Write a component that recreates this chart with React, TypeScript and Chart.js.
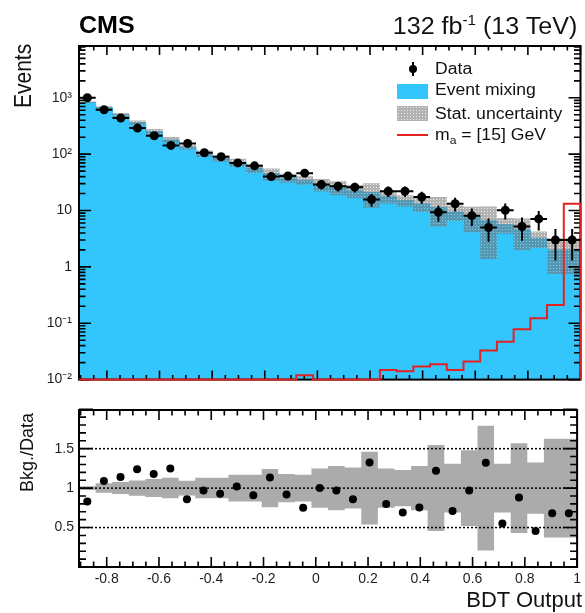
import React, { useEffect, useRef } from "react";
import { Chart, registerables } from "chart.js";

Chart.register(...registerables);

// ---------------- data ----------------
const binEdges = [
  -0.906, -0.8425, -0.7789, -0.7154, -0.6519, -0.5883, -0.5248, -0.4613, -0.3977, -0.3342,
  -0.2707, -0.2071, -0.1436, -0.0801, -0.0165, 0.047, 0.1105, 0.1741, 0.2376, 0.3011,
  0.3647, 0.4282, 0.4917, 0.5553, 0.6188, 0.6823, 0.7459, 0.8094, 0.8729, 0.9365, 1.0,
];
const dataCounts = [
  1000, 613, 436, 290, 212, 143, 155, 106, 90, 70, 62, 40, 41, 46, 29, 27, 26, 15.7, 22, 22,
  17.4, 9.3, 13.2, 8.1, 5.0, 10.1, 5.2, 7.1, 3.0, 3.0,
];
const dataErrors = [
  31.6, 24.8, 20.9, 17.0, 14.6, 12.0, 12.4, 10.3, 9.5, 8.4, 7.9, 6.3, 6.4, 6.8, 5.4, 5.2, 5.1, 4.0,
  4.7, 4.7, 4.2, 3.0, 3.6, 2.8, 2.2, 3.2, 2.3, 2.7, 1.7, 1.7,
];
const bkgEventMixing = [
  830, 668, 497, 360, 250, 179, 133, 103, 84, 71, 56, 45, 38, 34.5, 29, 26, 22.4, 20.8, 17.6, 15.2,
  13.1, 11.3, 9.4, 7.9, 6.6, 5.6, 4.6, 3.2, 2.0, 2.0,
];
const bkgRelUnc = [
  0.025, 0.06, 0.076, 0.097, 0.114, 0.13, 0.093, 0.13, 0.13, 0.17, 0.17, 0.243, 0.18, 0.17, 0.25,
  0.28, 0.26, 0.46, 0.25, 0.23, 0.28, 0.545, 0.31, 0.48, 0.79, 0.31, 0.57, 0.325, 0.625, 0.625,
];
const signalMa15 = [
  0, 0, 0, 0, 0, 0, 0, 0, 0, 0, 0, 0, 0, 0.012, 0, 0, 0, 0, 0.0148, 0.014, 0.017, 0.0187, 0.0148,
  0.021, 0.033, 0.047, 0.078, 0.123, 0.21, 13.2,
];
const ratioBkgData = [
  0.83, 1.09, 1.14, 1.24, 1.18, 1.25, 0.86, 0.97, 0.93, 1.02, 0.91, 1.135, 0.92, 0.75, 1.0, 0.97,
  0.86, 1.325, 0.8, 0.69, 0.755, 1.22, 0.71, 0.97, 1.32, 0.55, 0.88, 0.455, 0.68, 0.68,
];
const ratioRefLines = [0.5, 1, 1.5];

const xTickValues = [-0.8, -0.6, -0.4, -0.2, 0, 0.2, 0.4, 0.6, 0.8, 1];
const xTickLabels = ["-0.8", "-0.6", "-0.4", "-0.2", "0", "0.2", "0.4", "0.6", "0.8", "1"];
const yTickValues = [0.01, 0.1, 1, 10, 100, 1000];
const yTickLabels = ["10⁻²", "10⁻¹", "1", "10", "10²", "10³"];
const rTickValues = [0.5, 1, 1.5];
const rTickLabels = ["0.5", "1", "1.5"];

const X_MIN = binEdges[0];
const X_MAX = binEdges[binEdges.length - 1];
const Y_MIN = 0.01;
const Y_MAX = 8300;
const R_MIN = 0;
const R_MAX = 1.99;

// ---------------- style ----------------
const FONT = "'Liberation Sans', Arial, Helvetica, sans-serif";
const CYAN = "rgb(51,198,252)";
const RED = "rgb(228,32,32)";
const BAND_GRAY = "rgb(171,171,171)";
const W = 585;
const TOP_H = 395;
const BOT_H = 218;

// ---------------- helpers ----------------
const stepPts = (vals: number[], floor?: number) => {
  const v = vals.map((y) => (floor !== undefined && !(y > floor) ? floor : y));
  const pts = v.map((y, i) => ({ x: binEdges[i], y }));
  pts.push({ x: binEdges[binEdges.length - 1], y: v[v.length - 1] });
  return pts;
};
const centers = () => binEdges.slice(0, -1).map((e, i) => (e + binEdges[i + 1]) / 2);

function xMinorTicks() {
  const out: number[] = [];
  for (let k = -18; k <= 20; k++) {
    if (k % 4 === 0) continue;
    const v = k * 0.05;
    if (v >= X_MIN && v <= X_MAX) out.push(v);
  }
  return out;
}
function logMinorTicks() {
  const out: number[] = [];
  for (let e = -2; e <= 3; e++)
    for (let m = 2; m <= 9; m++) {
      const v = m * Math.pow(10, e);
      if (v < Y_MAX) out.push(v);
    }
  return out;
}
function ratioMinorTicks() {
  const out: number[] = [];
  for (let k = 1; k < 20; k++) if (k % 5 !== 0) out.push(k * 0.1);
  return out;
}

type FrameCfg = {
  id: string;
  afterIndex?: number;
  xMajor: number[];
  xMinor: number[];
  yMajor: number[];
  yMinor: number[];
  xMajLen: number;
  xMinLen: number;
  yMajLen: number;
  yMinLen: number;
};

function framePlugin(cfg: FrameCfg) {
  const draw = (chart: any) => {
    const { ctx, chartArea: a, scales } = chart;
    const xs = scales.x;
    const ys = scales.y;
    ctx.save();
    ctx.strokeStyle = "#000";
    ctx.lineWidth = 1.6;
    ctx.beginPath();
    const xt = (vals: number[], len: number) =>
      vals.forEach((v) => {
        const p = xs.getPixelForValue(v);
        ctx.moveTo(p, a.bottom);
        ctx.lineTo(p, a.bottom - len);
        ctx.moveTo(p, a.top);
        ctx.lineTo(p, a.top + len);
      });
    const yt = (vals: number[], len: number) =>
      vals.forEach((v) => {
        const p = ys.getPixelForValue(v);
        ctx.moveTo(a.left, p);
        ctx.lineTo(a.left + len, p);
        ctx.moveTo(a.right, p);
        ctx.lineTo(a.right - len, p);
      });
    xt(cfg.xMajor, cfg.xMajLen);
    xt(cfg.xMinor, cfg.xMinLen);
    yt(cfg.yMajor, cfg.yMajLen);
    yt(cfg.yMinor, cfg.yMinLen);
    ctx.stroke();
    ctx.lineWidth = 2;
    ctx.strokeRect(a.left, a.top, a.right - a.left, a.bottom - a.top);
    ctx.restore();
  };
  return {
    id: cfg.id,
    afterDatasetDraw(chart: any, args: any) {
      if (cfg.afterIndex !== undefined && args.index === cfg.afterIndex) draw(chart);
    },
    afterDatasetsDraw(chart: any) {
      if (cfg.afterIndex === undefined) draw(chart);
    },
  };
}

const errorBarPlugin = {
  id: "dataErrorBars",
  beforeDatasetDraw(chart: any, args: any) {
    if (args.index !== 0) return;
    const { ctx, scales } = chart;
    const xs = scales.x;
    const ys = scales.y;
    ctx.save();
    ctx.strokeStyle = "#000";
    ctx.lineWidth = 2;
    ctx.beginPath();
    dataCounts.forEach((n, i) => {
      const xl = xs.getPixelForValue(binEdges[i]);
      const xr = xs.getPixelForValue(binEdges[i + 1]);
      const xc = xs.getPixelForValue((binEdges[i] + binEdges[i + 1]) / 2);
      const yc = ys.getPixelForValue(n);
      const yh = ys.getPixelForValue(n + dataErrors[i]);
      const yl = ys.getPixelForValue(Math.max(n - dataErrors[i], Y_MIN));
      ctx.moveTo(xl, yc);
      ctx.lineTo(xr, yc);
      ctx.moveTo(xc, yh);
      ctx.lineTo(xc, yl);
    });
    ctx.stroke();
    ctx.restore();
  },
};

function makeHatch(): HTMLCanvasElement {
  const pc = document.createElement("canvas");
  pc.width = 3;
  pc.height = 3;
  const g = pc.getContext("2d")!;
  g.fillStyle = "rgba(115,115,115,0.55)";
  g.fillRect(0, 0, 3, 3);
  g.clearRect(1, 1, 1, 1);
  g.fillStyle = "rgba(210,210,210,0.45)";
  g.fillRect(1, 1, 1, 1);
  return pc;
}

const tickFont = { family: FONT, size: 14 };
const TICK_COLOR = "#1e1e1e";

export default function App() {
  const topRef = useRef<HTMLCanvasElement>(null);
  const botRef = useRef<HTMLCanvasElement>(null);
  const legHatchRef = useRef<HTMLDivElement>(null);

  useEffect(() => {
    const hatchCanvas = makeHatch();
    if (legHatchRef.current) {
      legHatchRef.current.style.backgroundImage = `url(${hatchCanvas.toDataURL()})`;
    }
    const topCtx = topRef.current!.getContext("2d")!;
    const hatchPattern = topCtx.createPattern(hatchCanvas, "repeat")!;
    const cx = centers();

    const top = new Chart(topRef.current!, {
      type: "line",
      data: {
        datasets: [
          {
            label: "Data",
            data: cx.map((x, i) => ({ x, y: dataCounts[i] })),
            showLine: false,
            pointRadius: 4.5,
            pointBackgroundColor: "#000",
            pointBorderWidth: 0,
            order: 0,
          } as any,
          {
            label: "m_a = [15] GeV",
            data: [...stepPts(signalMa15, Y_MIN), { x: X_MAX, y: Y_MIN }],
            stepped: true,
            borderColor: RED,
            borderWidth: 2,
            pointRadius: 0,
            fill: false,
            clip: 2,
            order: 1,
          },
          {
            label: "Stat. uncertainty (low)",
            data: stepPts(bkgEventMixing.map((b, i) => b * (1 - bkgRelUnc[i]))),
            stepped: true,
            borderColor: "rgba(0,0,0,0)",
            borderWidth: 0,
            pointRadius: 0,
            fill: 3,
            backgroundColor: hatchPattern,
            order: 2,
          },
          {
            label: "Stat. uncertainty (high)",
            data: stepPts(bkgEventMixing.map((b, i) => b * (1 + bkgRelUnc[i]))),
            stepped: true,
            borderColor: "rgba(0,0,0,0)",
            borderWidth: 0,
            pointRadius: 0,
            fill: false,
            order: 3,
          },
          {
            label: "Event mixing",
            data: stepPts(bkgEventMixing),
            stepped: true,
            borderColor: CYAN,
            borderWidth: 1,
            pointRadius: 0,
            fill: "start",
            backgroundColor: CYAN,
            order: 4,
          },
        ],
      },
      options: {
        animation: false,
        responsive: false,
        events: [],
        layout: { padding: { top: 46, right: 3, left: 0, bottom: 0 } },
        plugins: { legend: { display: false }, tooltip: { enabled: false } },
        scales: {
          x: {
            type: "linear",
            min: X_MIN,
            max: X_MAX,
            grid: { display: false, drawTicks: false },
            border: { display: false },
            ticks: { display: false },
            afterBuildTicks: (s: any) => {
              s.ticks = xTickValues.map((value) => ({ value }));
            },
            afterFit: (s: any) => {
              s.height = TOP_H - 380;
            },
          },
          y: {
            type: "logarithmic",
            min: Y_MIN,
            max: Y_MAX,
            grid: { display: false, drawTicks: false },
            border: { display: false },
            ticks: {
              autoSkip: false,
              padding: 7,
              font: tickFont,
              color: TICK_COLOR,
              callback: (_v: any, i: number) => yTickLabels[i],
            },
            afterBuildTicks: (s: any) => {
              s.ticks = yTickValues.map((value) => ({ value }));
            },
            afterFit: (s: any) => {
              s.width = 79;
            },
          },
        },
      } as any,
      plugins: [
        errorBarPlugin,
        framePlugin({
          id: "frameTop",
          afterIndex: 2,
          xMajor: xTickValues,
          xMinor: xMinorTicks(),
          yMajor: yTickValues,
          yMinor: logMinorTicks(),
          xMajLen: 9,
          xMinLen: 4.5,
          yMajLen: 12,
          yMinLen: 6.5,
        }),
      ],
    });

    const bot = new Chart(botRef.current!, {
      type: "line",
      data: {
        datasets: [
          {
            label: "Bkg./Data",
            data: cx.map((x, i) => ({ x, y: ratioBkgData[i] })),
            showLine: false,
            pointRadius: 4,
            pointBackgroundColor: "#000",
            pointBorderWidth: 0,
            order: 0,
          } as any,
          ...ratioRefLines.map((v) => ({
            label: "ref " + v,
            data: [
              { x: X_MIN, y: v },
              { x: X_MAX, y: v },
            ],
            borderColor: "#000",
            borderWidth: 1.5,
            borderDash: [2, 2],
            pointRadius: 0,
            fill: false,
            order: 1,
          })),
          {
            label: "band low",
            data: stepPts(bkgRelUnc.map((u) => 1 - u)),
            stepped: true,
            borderColor: "rgba(0,0,0,0)",
            borderWidth: 0,
            pointRadius: 0,
            fill: 5,
            backgroundColor: BAND_GRAY,
            order: 2,
          },
          {
            label: "band high",
            data: stepPts(bkgRelUnc.map((u) => 1 + u)),
            stepped: true,
            borderColor: "rgba(0,0,0,0)",
            borderWidth: 0,
            pointRadius: 0,
            fill: false,
            order: 3,
          },
        ],
      },
      options: {
        animation: false,
        responsive: false,
        events: [],
        layout: { padding: { top: 15, right: 3, left: 0, bottom: 0 } },
        plugins: { legend: { display: false }, tooltip: { enabled: false } },
        scales: {
          x: {
            type: "linear",
            min: X_MIN,
            max: X_MAX,
            grid: { display: false, drawTicks: false },
            border: { display: false },
            ticks: {
              autoSkip: false,
              maxRotation: 0,
              padding: 4,
              font: tickFont,
              color: TICK_COLOR,
              callback: (_v: any, i: number) => xTickLabels[i],
            },
            afterBuildTicks: (s: any) => {
              s.ticks = xTickValues.map((value) => ({ value }));
            },
            afterFit: (s: any) => {
              s.height = BOT_H - 172;
            },
          },
          y: {
            type: "linear",
            min: R_MIN,
            max: R_MAX,
            grid: { display: false, drawTicks: false },
            border: { display: false },
            ticks: {
              autoSkip: false,
              padding: 5,
              font: tickFont,
              color: TICK_COLOR,
              callback: (_v: any, i: number) => rTickLabels[i],
            },
            afterBuildTicks: (s: any) => {
              s.ticks = rTickValues.map((value) => ({ value }));
            },
            afterFit: (s: any) => {
              s.width = 79;
            },
          },
        },
      } as any,
      plugins: [
        framePlugin({
          id: "frameBot",
          xMajor: xTickValues,
          xMinor: xMinorTicks(),
          yMajor: [0, ...rTickValues, 2],
          yMinor: ratioMinorTicks(),
          xMajLen: 10,
          xMinLen: 5.5,
          yMajLen: 14,
          yMinLen: 7,
        }),
      ],
    });

    return () => {
      top.destroy();
      bot.destroy();
    };
  }, []);

  const txt = (extra: React.CSSProperties): React.CSSProperties => ({
    position: "absolute",
    fontFamily: FONT,
    whiteSpace: "nowrap",
    color: "#111",
    ...extra,
  });

  const legendRows = [
    { label: "Data", baseline: 74 },
    { label: "Event mixing", baseline: 95.7 },
    { label: "Stat. uncertainty", baseline: 119 },
  ];

  return (
    <div
      style={{
        position: "absolute",
        left: 0,
        top: 0,
        width: W,
        height: 613,
        overflow: "hidden",
        background: "#fff",
      }}
    >
      <canvas
        ref={topRef}
        width={W}
        height={TOP_H}
        style={{ position: "absolute", left: 0, top: 0, width: W, height: TOP_H }}
      />
      <canvas
        ref={botRef}
        width={W}
        height={BOT_H}
        style={{ position: "absolute", left: 0, top: TOP_H, width: W, height: BOT_H }}
      />

      {/* header */}
      <div
        style={txt({
          left: 79,
          top: 13.5,
          fontSize: 23,
          lineHeight: "23px",
          fontWeight: "bold",
          color: "#000",
          transform: "scaleX(1.09)",
          transformOrigin: "0 0",
        })}
      >
        CMS
      </div>
      <div
        style={txt({
          right: W - 577,
          top: 14.5,
          fontSize: 23,
          lineHeight: "23px",
          transform: "scaleX(1.09)",
          transformOrigin: "100% 0",
        })}
      >
        132 fb
        <span style={{ fontSize: 14, position: "relative", top: -9 }}>-1</span> (13 TeV)
      </div>

      {/* axis titles */}
      <div
        style={txt({
          left: 0,
          top: 0,
          fontSize: 21,
          lineHeight: "21px",
          transformOrigin: "0 0",
          transform: "translate(11px,108px) rotate(-90deg) scaleY(1.1)",
        })}
      >
        Events
      </div>
      <div
        style={txt({
          left: 0,
          top: 0,
          fontSize: 18,
          lineHeight: "18px",
          transformOrigin: "0 0",
          transform: "translate(18px,492px) rotate(-90deg)",
        })}
      >
        Bkg./Data
      </div>
      <div style={txt({ right: W - 582, top: 589, fontSize: 22, lineHeight: "22px" })}>
        BDT Output
      </div>

      {/* legend */}
      {legendRows.map((r) => (
        <div
          key={r.label}
          style={txt({
            left: 435,
            top: r.baseline - 13.5,
            fontSize: 16,
            lineHeight: "16px",
            transform: "scaleX(1.1)",
            transformOrigin: "0 0",
          })}
        >
          {r.label}
        </div>
      ))}
      <div
        style={txt({
          left: 435,
          top: 140 - 13.5,
          fontSize: 16,
          lineHeight: "16px",
          transform: "scaleX(1.1)",
          transformOrigin: "0 0",
        })}
      >
        m<span style={{ fontSize: 11, position: "relative", top: 4 }}>a</span> = [15] GeV
      </div>
      {/* legend symbols */}
      <div style={{ position: "absolute", left: 412, top: 62, width: 2, height: 14, background: "#000" }} />
      <div
        style={{
          position: "absolute",
          left: 409,
          top: 65,
          width: 8,
          height: 8,
          borderRadius: 4,
          background: "#000",
        }}
      />
      <div style={{ position: "absolute", left: 397, top: 84, width: 31, height: 15, background: CYAN }} />
      <div
        ref={legHatchRef}
        style={{ position: "absolute", left: 397, top: 106, width: 31, height: 15 }}
      />
      <div style={{ position: "absolute", left: 397, top: 134, width: 31, height: 2, background: RED }} />
    </div>
  );
}
